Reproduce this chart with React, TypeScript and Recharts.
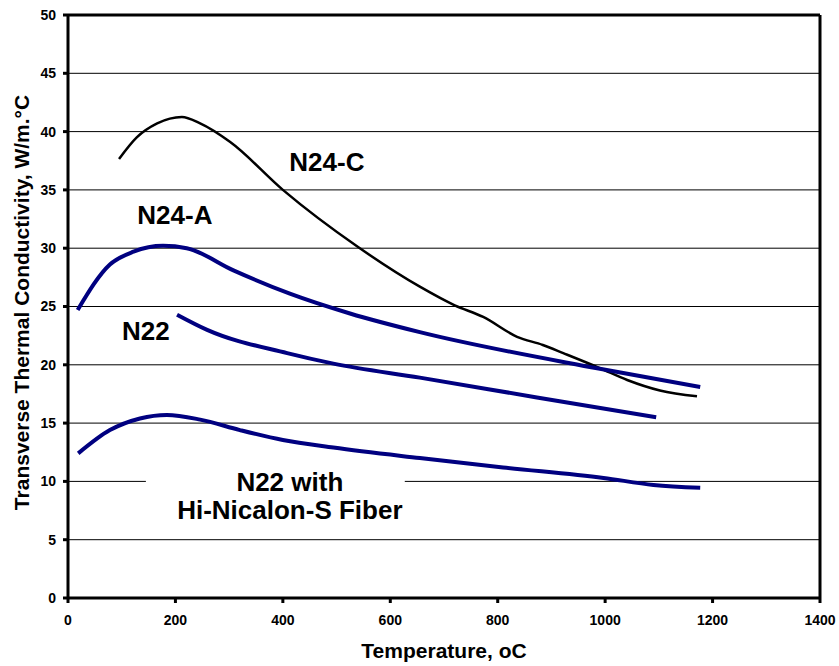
import { LineChart, Line, XAxis, YAxis, CartesianGrid, ReferenceLine, ReferenceDot, ReferenceArea } from 'recharts'

const xTicks = [0, 200, 400, 600, 800, 1000, 1200, 1400]
const yTicks = [0, 5, 10, 15, 20, 25, 30, 35, 40, 45, 50]

const n24c = [
  { t: 95, k: 37.65 }, { t: 128, k: 39.5 }, { t: 166, k: 40.7 }, { t: 212, k: 41.25 },
  { t: 246, k: 40.7 }, { t: 302, k: 39.1 }, { t: 400, k: 35.0 }, { t: 540, k: 30.1 },
  { t: 655, k: 26.7 }, { t: 720, k: 25.1 }, { t: 773, k: 24.1 }, { t: 836, k: 22.4 },
  { t: 884, k: 21.7 }, { t: 922, k: 21.0 }, { t: 991, k: 19.7 }, { t: 1041, k: 18.7 },
  { t: 1102, k: 17.8 }, { t: 1171, k: 17.3 },
]

const n24a = [
  { t: 18, k: 24.7 }, { t: 78, k: 28.6 }, { t: 122, k: 29.7 }, { t: 177, k: 30.2 },
  { t: 221, k: 30.0 }, { t: 308, k: 28.1 }, { t: 413, k: 26.1 }, { t: 525, k: 24.4 },
  { t: 655, k: 22.8 }, { t: 985, k: 19.7 }, { t: 1177, k: 18.1 },
]

const n22 = [
  { t: 203, k: 24.3 }, { t: 259, k: 23.0 }, { t: 408, k: 21.0 }, { t: 494, k: 20.1 },
  { t: 655, k: 18.9 }, { t: 873, k: 17.2 }, { t: 1095, k: 15.5 },
]

const n22Fiber = [
  { t: 19, k: 12.4 }, { t: 78, k: 14.4 }, { t: 134, k: 15.4 }, { t: 184, k: 15.7 },
  { t: 246, k: 15.3 }, { t: 320, k: 14.4 }, { t: 400, k: 13.55 }, { t: 494, k: 12.9 },
  { t: 655, k: 12.0 }, { t: 810, k: 11.2 }, { t: 997, k: 10.3 }, { t: 1090, k: 9.7 },
  { t: 1177, k: 9.45 },
]

const seriesLabels = [
  { text: 'N24-C', t: 482, k: 37.4 },
  { text: 'N24-A', t: 199, k: 32.9 },
  { text: 'N22', t: 145, k: 22.9 },
  { text: 'N22 with', t: 413, k: 9.95 },
  { text: 'Hi-Nicalon-S Fiber', t: 413, k: 7.55 },
]

const font = '"Liberation Sans", Arial, sans-serif'
const navy = '#000080'

export default function App() {
  const tickStyle = { fontSize: 14, fontWeight: 'bold', fill: '#000', fontFamily: font }
  const titleStyle = { fontSize: 21, fontWeight: 'bold', fill: '#000', fontFamily: font }
  return (
    <div style={{ position: 'absolute', left: 0, top: 0, background: '#fff' }}>
      <LineChart width={839} height={666} margin={{ top: 15, right: 19, left: 8, bottom: 28 }}>
        <CartesianGrid vertical={false} stroke="#000" strokeWidth={1} />
        <XAxis
          type="number"
          dataKey="t"
          domain={[0, 1400]}
          ticks={xTicks}
          height={40}
          stroke="#000"
          strokeWidth={3}
          tickSize={5}
          tickMargin={12}
          tick={tickStyle}
          label={{ value: 'Temperature, oC', position: 'center', dy: 33, style: titleStyle }}
        />
        <YAxis
          type="number"
          dataKey="k"
          domain={[0, 50]}
          ticks={yTicks}
          width={60}
          stroke="#000"
          strokeWidth={3}
          tickSize={5}
          tickMargin={7}
          tick={tickStyle}
          label={{ value: 'Transverse Thermal Conductivity, W/m.°C', angle: -90, position: 'center', dx: -16, dy: -4, style: { ...titleStyle, textAnchor: 'middle' } }}
        />
        <ReferenceLine y={50} stroke="#000" strokeWidth={3} />
        <ReferenceLine x={1400} stroke="#000" strokeWidth={3} />
        <ReferenceArea x1={145} x2={627} y1={6.4} y2={11.1} fill="#fff" fillOpacity={1} stroke="none" />
        <Line data={n24c} dataKey="k" type="monotone" stroke="#000" strokeWidth={2.5} dot={false} isAnimationActive={false} />
        <Line data={n24a} dataKey="k" type="monotone" stroke={navy} strokeWidth={4} dot={false} isAnimationActive={false} />
        <Line data={n22} dataKey="k" type="monotone" stroke={navy} strokeWidth={4} dot={false} isAnimationActive={false} />
        <Line data={n22Fiber} dataKey="k" type="monotone" stroke={navy} strokeWidth={4} dot={false} isAnimationActive={false} />
        {seriesLabels.map((l) => (
          <ReferenceDot
            key={l.text}
            x={l.t}
            y={l.k}
            r={0}
            stroke="none"
            fill="none"
            label={{ value: l.text, position: 'center', style: { fontSize: 26, fontWeight: 'bold', fill: '#000', fontFamily: font } }}
          />
        ))}
      </LineChart>
    </div>
  )
}
